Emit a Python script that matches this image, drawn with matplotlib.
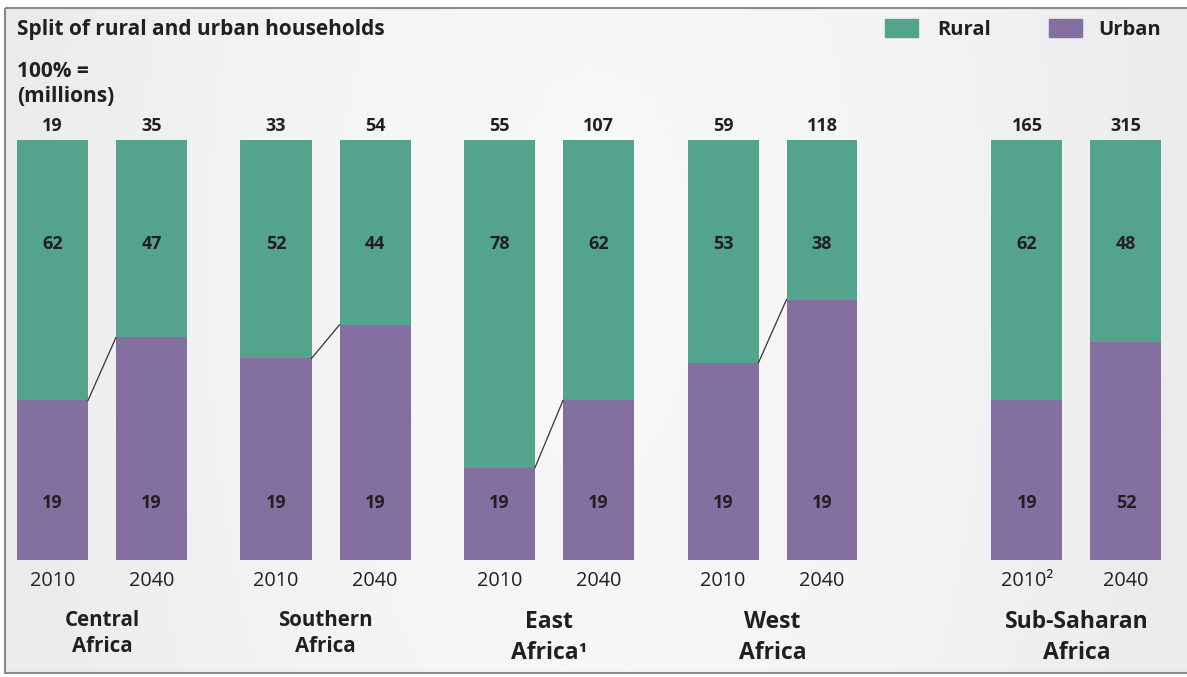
import numpy as np
import matplotlib
matplotlib.use("Agg")
import matplotlib.pyplot as plt
from matplotlib.patches import Rectangle

plt.rcParams['font.family'] = ['Open Sans', 'DejaVu Sans']

# data
regions = ['Central\nAfrica', 'Southern\nAfrica', 'East\nAfrica\u00b9', 'West\nAfrica', 'Sub-Saharan\nAfrica']
year_labels = [['2010', '2040'], ['2010', '2040'], ['2010', '2040'], ['2010', '2040'], ['2010\u00b2', '2040']]
totals = [[19, 35], [33, 54], [55, 107], [59, 118], [165, 315]]
rural = [[62, 47], [52, 44], [78, 62], [53, 38], [62, 48]]
urban_labels = [[19, 19], [19, 19], [19, 19], [19, 19], [19, 52]]
show_connector = [True, True, True, True, False]

# region label styling (the right three are set a little larger)
region_size = [14.8, 14.8, 16.5, 16.5, 16.5]
region_y = [-17.5, -17.5, -18.4, -18.4, -18.4]
region_ls = [1.3, 1.3, 1.38, 1.38, 1.38]

green = '#54a38d'
purple = '#8470a0'
txt = '#231f20'

W, H = 1187, 677
fig = plt.figure(figsize=(W / 100, H / 100), dpi=100)
fig.patch.set_facecolor('white')

# background panel with soft gradient
bg = fig.add_axes([0, 0, 1, 1])
bg.set_xlim(0, W)
bg.set_ylim(H, 0)
bg.axis('off')
xx = np.linspace(0, 1, 400)
yy = np.linspace(0, 1, 200)
X, Y = np.meshgrid(xx, yy)
shade = 0.922 + 0.048 * np.clip(1 - ((X - 0.5) / 0.5) ** 2 - 0.3 * (Y - 0.4) ** 2, 0, 1)
bg.imshow(np.dstack([shade, shade, shade + 0.004]).clip(0, 1), extent=(5, W + 2, 673, 8),
          aspect='auto', interpolation='bilinear', zorder=0)
bg.add_patch(Rectangle((5, 8), W, 665, fill=False, edgecolor='#8a8a8a', linewidth=1.5, zorder=1))

# titles and legend
fig.text(17 / W, 1 - 30 / H, 'Split of rural and urban households', fontsize=15,
         fontweight='bold', color=txt, va='center', ha='left')
fig.text(17 / W, 1 - 84 / H, '100% =\n(millions)', fontsize=15, fontweight='bold',
         color=txt, va='center', ha='left', linespacing=1.25)
bg.add_patch(Rectangle((885, 19), 33, 18, color=green, zorder=2))
bg.add_patch(Rectangle((1049, 19), 33, 18, color=purple, zorder=2))
fig.text(937 / W, 1 - 30 / H, 'Rural', fontsize=14.5, fontweight='bold', color=txt, va='center')
fig.text(1098 / W, 1 - 30 / H, 'Urban', fontsize=14.5, fontweight='bold', color=txt, va='center')

# main bars
ax = fig.add_axes([0, (H - 560) / H, 1, 420 / H])
ax.set_xlim(0, W / 100)
ax.set_ylim(0, 100)
ax.axis('off')
ax.patch.set_alpha(0)

bw = 0.71
group_step = 2.235
group_pos = np.array([0, 1, 2, 3, 4.36]) * group_step + 0.525
pair_step = 0.99

for g, name in enumerate(regions):
    xs = group_pos[g] + np.arange(2) * pair_step
    r = np.array(rural[g])
    u = 100 - r
    ax.bar(xs, u, width=bw, color=purple, zorder=2)
    ax.bar(xs, r, bottom=u, width=bw, color=green, zorder=2)
    if show_connector[g]:
        ax.plot([xs[0] + bw / 2, xs[1] - bw / 2], [u[0], u[1]], color='#333333', lw=0.9, zorder=3)
    for i in range(2):
        ax.text(xs[i], 103.4, str(totals[g][i]), ha='center', va='center', fontsize=13,
                fontweight='bold', color=txt, clip_on=False)
        ax.text(xs[i], 75.2, str(r[i]), ha='center', va='center', fontsize=13,
                fontweight='bold', color=txt)
        ax.text(xs[i], 13.6, str(urban_labels[g][i]), ha='center', va='center', fontsize=13,
                fontweight='bold', color=txt)
        ax.text(xs[i], -5.0, year_labels[g][i], ha='center', va='center', fontsize=14.3,
                color=txt, clip_on=False)
    ax.text(xs.mean(), region_y[g], name, ha='center', va='center', fontsize=region_size[g],
            fontweight='bold', color=txt, linespacing=region_ls[g], clip_on=False)

fig.savefig('out.png', dpi=100)
